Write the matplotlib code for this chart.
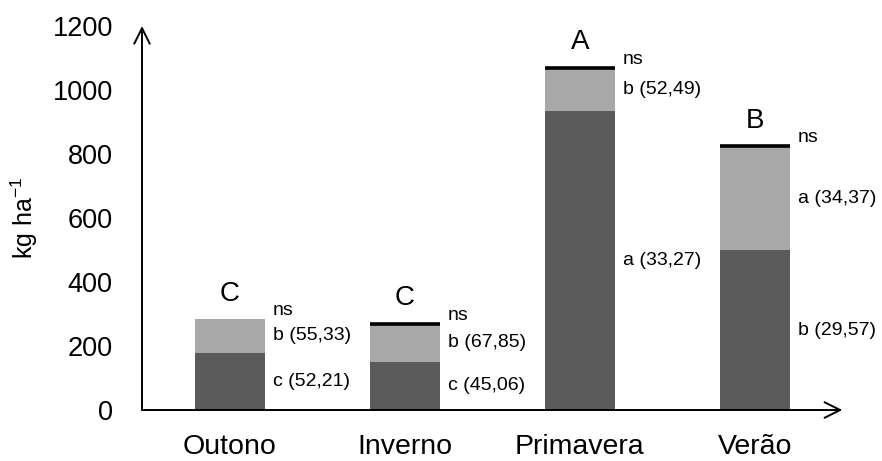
import matplotlib.pyplot as plt
import numpy as np

plt.rcParams['font.family'] = ['Liberation Sans', 'DejaVu Sans']
plt.rcParams['mathtext.fontset'] = 'custom'
plt.rcParams['mathtext.rm'] = 'Liberation Sans'

seasons = ['Outono', 'Inverno', 'Primavera', 'Verão']
bottom_vals = [179, 151, 934, 500]
top_vals = [105, 119, 135, 324]
group_letters = ['C', 'C', 'A', 'B']
bottom_labels = ['c (52,21)', 'c (45,06)', 'a (33,27)', 'b (29,57)']
top_labels = ['b (55,33)', 'b (67,85)', 'b (52,49)', 'a (34,37)']
has_line = [False, True, True, True]

dark = '#5a5a5a'
light = '#a8a8a8'

fig = plt.figure(figsize=(8.82, 4.61), dpi=100)
ax = fig.add_axes([0.161, 0.1106, 0.794, 0.833])

x = np.arange(len(seasons))
w = 0.4
bottom_vals = np.array(bottom_vals)
top_vals = np.array(top_vals)
totals = bottom_vals + top_vals

ax.bar(x, bottom_vals, width=w, color=dark)
ax.bar(x, top_vals, width=w, bottom=bottom_vals, color=light)

for i in range(len(seasons)):
    if has_line[i]:
        ax.hlines(totals[i], x[i] - w / 2, x[i] + w / 2, color='black', lw=2.6)
    # letter over bar
    ax.annotate(group_letters[i], (x[i], totals[i]), xytext=(0, 9), textcoords='offset points',
                ha='center', va='bottom', fontsize=20)
    # ns
    ax.annotate('ns', (x[i] + w / 2, totals[i]), xytext=(6, 0), textcoords='offset points',
                ha='left', va='bottom', fontsize=14)
    # segment labels
    ax.annotate(top_labels[i], (x[i] + w / 2, bottom_vals[i] + top_vals[i] / 2), xytext=(6, 0),
                textcoords='offset points', ha='left', va='center', fontsize=14)
    ax.annotate(bottom_labels[i], (x[i] + w / 2, bottom_vals[i] / 2), xytext=(6, 0),
                textcoords='offset points', ha='left', va='center', fontsize=14)

ax.set_xlim(-0.5, 3.5)
ax.set_ylim(0, 1200)
ax.set_yticks(np.arange(0, 1201, 200))
ax.set_xticks(x)
ax.set_xticklabels(seasons)
ax.tick_params(axis='y', length=0, pad=21, labelsize=19.5)
ax.tick_params(axis='x', length=0, pad=17, labelsize=20.5)
ax.set_ylabel('kg ha$^{-1}$', fontsize=18)
ax.yaxis.set_label_coords(-0.145, 0.5)

for s in ax.spines.values():
    s.set_visible(False)

# axes with open arrow heads
arrow = dict(arrowstyle='->', lw=1.4, color='black', mutation_scale=28, shrinkA=0, shrinkB=0)
ax.annotate('', xy=(1, 0), xytext=(0, 0), xycoords='axes fraction', arrowprops=arrow)
ax.annotate('', xy=(0, 1), xytext=(0, 0), xycoords='axes fraction', arrowprops=arrow)

fig.savefig('out.png', dpi=100)
